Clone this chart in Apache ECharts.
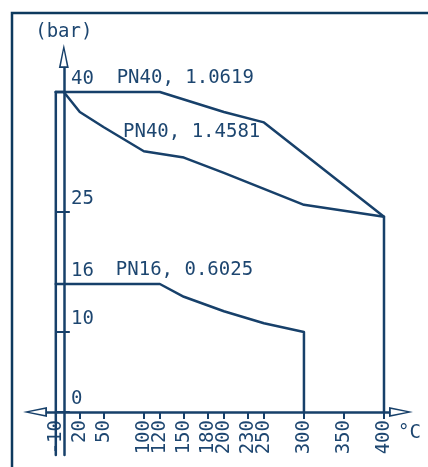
<!DOCTYPE html>
<html>
<head>
<meta charset="utf-8">
<script src="https://cdn.jsdelivr.net/npm/echarts@6/dist/echarts.min.js"></script>
<style>
html,body{margin:0;padding:0;background:#fff;}
#chart{width:428px;height:467px;}
</style>
</head>
<body>
<div id="chart"></div>
<script>
// 温度刻度 (°C)
var tempTicks = [-10, 20, 50, 100, 120, 150, 180, 200, 230, 250, 300, 350, 400];
// 压力刻度 (bar)
var barTicks = [0, 10, 16, 25, 40];

// 曲线名
var curveNames = ['PN40, 1.0619', 'PN40, 1.4581', 'PN16, 0.6025'];
// 各曲线 [温度, 压力]
var pn40a = [[-10, 40], [120, 40], [200, 37.5], [250, 36.2], [400, 24.4], [400, 0]];
var pn40b = [[-10, 40], [0, 40], [20, 37.5], [50, 35.6], [100, 32.6], [150, 31.8], [200, 29.9], [250, 27.9], [300, 25.9], [400, 24.4]];
var pn16 = [[-10, 16], [120, 16], [150, 14.4], [200, 12.6], [250, 11.1], [300, 10], [300, 0]];
// -10°C 边界线
var minTemp = -10;

// 轴范围
var xMin = -21, xMax = 406.25;
var yMin = -5.375, yMax = 43;

// 曲线名的位置 (数据坐标)
var nameAnchors = [[66, 41.75], [74, 35], [65, 17.75]];

var ink = '#17406a';
var textInk = '#1d4670';
var font = 'DejaVu Sans Mono';
// 空心箭头
var hollowArrow = 'path://M5 0 L10 24 L0 24 Z M5 6.5 L2 22.2 L8 22.2 Z';

var chart = echarts.init(document.getElementById('chart'));

function lineSeries(data){
	return {
		type: 'line',
		data: data,
		symbol: 'none',
		silent: true,
		clip: false,
		lineStyle: {color: ink, width: 2.5, join: 'round', cap: 'round'}
	};
}

var option = {
	animation: false,
	backgroundColor: '#fff',
	grid: {left: 47, right: 39, top: 68, bottom: 12, outerBoundsMode: 'none'},
	xAxis: [{
		type: 'value', min: xMin, max: xMax,
		name: '°C', nameLocation: 'end', nameGap: 9, nameMoveOverlap: false,
		nameTextStyle: {fontFamily: font, fontSize: 19, color: textInk, verticalAlign: 'top', padding: [12, 0, 0, 0]},
		splitLine: {show: false},
		axisLine: {onZero: true, lineStyle: {color: ink, width: 2.5},
			symbol: [hollowArrow, hollowArrow], symbolSize: [11, 24], symbolOffset: [-12, 12]},
		axisTick: {show: true, inside: false, length: 5, lineStyle: {color: ink, width: 2}, customValues: tempTicks},
		axisLabel: {show: true, rotate: 90, margin: -35, fontFamily: font, fontSize: 19, color: textInk, customValues: tempTicks}
	}, {
		type: 'value', min: xMin, max: xMax,
		splitLine: {show: false},
		axisLine: {show: false, onZero: true},
		axisTick: {show: true, inside: true, length: 7, lineStyle: {color: ink, width: 2}, customValues: tempTicks},
		axisLabel: {show: false}
	}],
	yAxis: [{
		type: 'value', min: yMin, max: yMax, position: 'left',
		name: '(bar)', nameLocation: 'end', nameGap: 26, nameMoveOverlap: false,
		nameTextStyle: {fontFamily: font, fontSize: 19, color: textInk},
		splitLine: {show: false},
		axisLine: {onZero: true, lineStyle: {color: ink, width: 2.5},
			symbol: ['none', hollowArrow], symbolSize: [10, 24], symbolOffset: [0, 12]},
		axisTick: {show: true, inside: false, length: 8, lineStyle: {color: ink, width: 2}, customValues: barTicks},
		axisLabel: {show: false}
	}, {
		type: 'value', min: yMin, max: yMax, position: 'left',
		splitLine: {show: false},
		axisLine: {show: false, onZero: true},
		axisTick: {show: true, inside: true, length: 6, lineStyle: {color: ink, width: 2}, customValues: barTicks},
		axisLabel: {show: true, inside: true, margin: 24, align: 'left', verticalAlign: 'bottom', padding: [0, 0, 3, 0],
			fontFamily: font, fontSize: 19, color: textInk, customValues: barTicks}
	}],
	series: [
		lineSeries(pn40a),
		lineSeries(pn40b),
		lineSeries(pn16),
		lineSeries([[minTemp, pn40a[0][1]], [minTemp, yMin]])
	]
};
chart.setOption(option);

// 边框和曲线名
var graphics = [{
	type: 'rect', silent: true,
	shape: {x: 12, y: 13, width: 600, height: 600},
	style: {fill: 'none', stroke: '#0d3a5e', lineWidth: 2.5}
}];
curveNames.forEach(function(name, i){
	var p = chart.convertToPixel({xAxisIndex: 0, yAxisIndex: 0}, nameAnchors[i]);
	graphics.push({
		type: 'text', silent: true, x: p[0], y: p[1],
		style: {text: name, font: '19px "' + font + '"', fill: textInk, align: 'left', verticalAlign: 'middle'}
	});
});
chart.setOption({graphic: graphics});
</script>
</body>
</html>
